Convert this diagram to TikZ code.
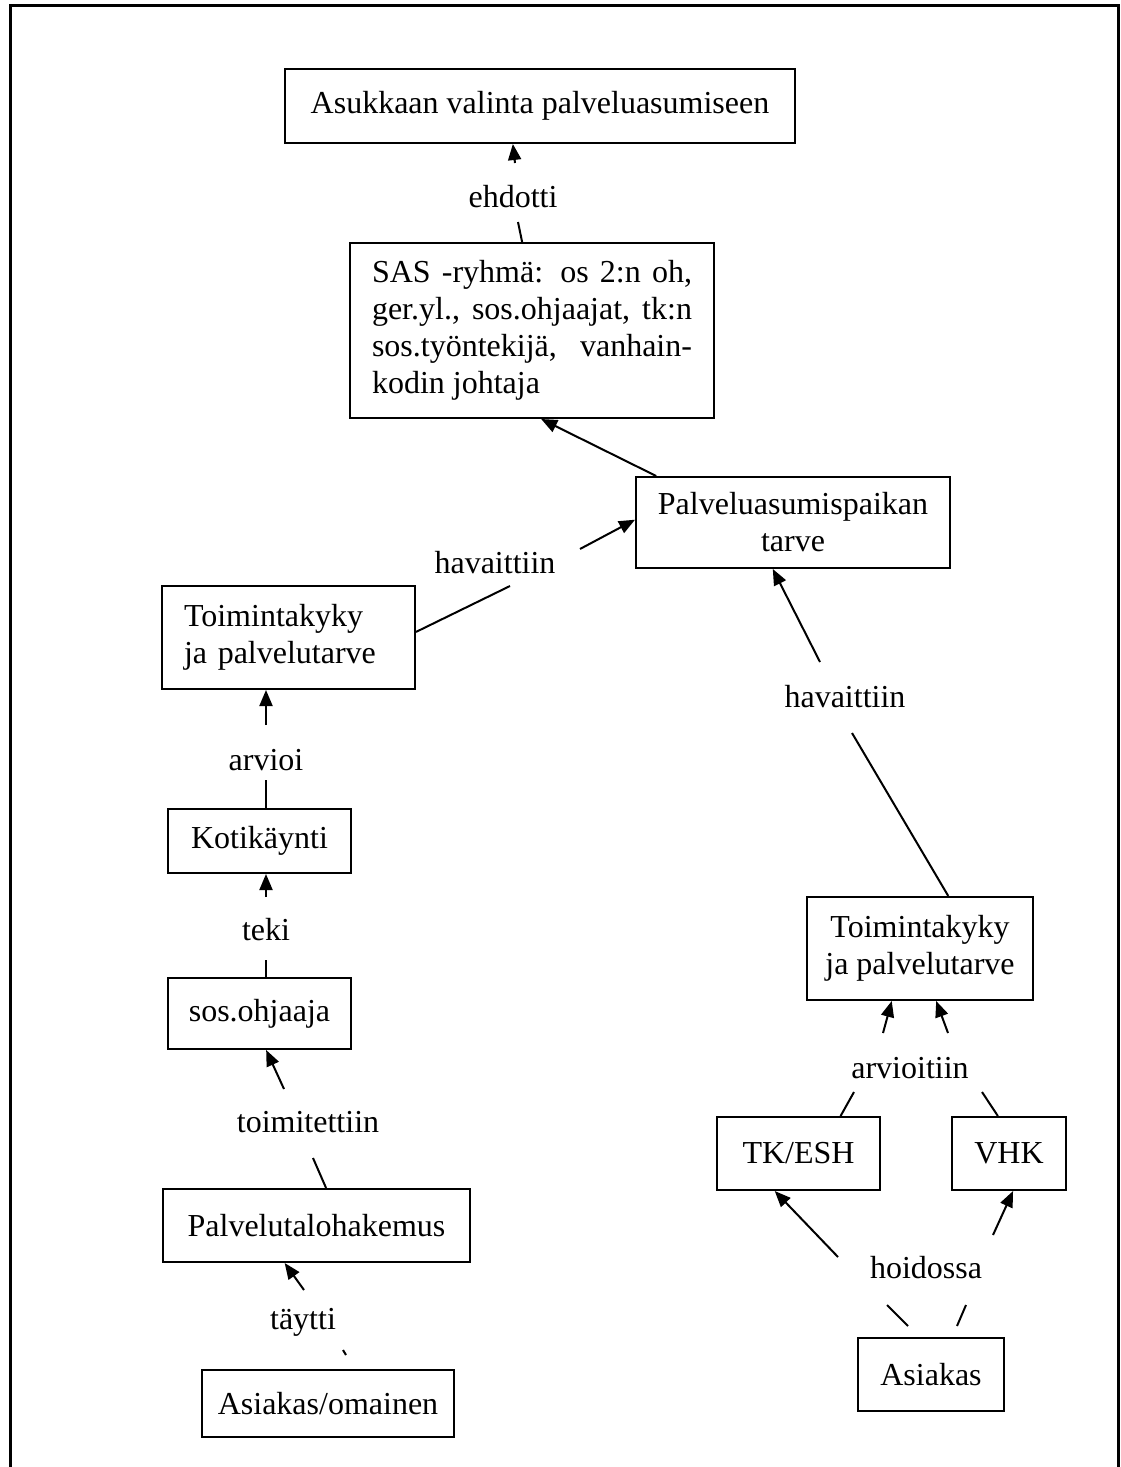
\documentclass[tikz,border=0pt]{standalone}
\usepackage{fontspec}
\setmainfont{Liberation Serif}
\usetikzlibrary{arrows.meta,calc}
\begin{document}
\begin{tikzpicture}[x=0.5pt,y=-0.5pt,
  every node/.style={font=\fontsize{16pt}{18.5pt}\selectfont},
  box/.style 2 args={draw, line width=1pt, inner sep=0pt,
    minimum width=#1*0.5pt, minimum height=#2*0.5pt, align=center},
  lbl/.style={inner sep=0pt},
  link/.style={line width=1pt},
  arr/.style={line width=1pt, -{Triangle[length=8pt,width=6.5pt]}},
]
\useasboundingbox (0,0) rectangle (1120,1467);

% page frame, open at the bottom
\draw[line width=1.5pt] (10,1480) -- (10,5) -- (1118,5) -- (1118,1480);

% boxes
\node[box={510}{74}] (valinta) at (540,106) {Asukkaan valinta palveluasumiseen};
\node[box={364}{175}, text width=160pt, align=justify] (sas) at (532,330.5)
  {SAS -ryhmä: os 2:n oh,\linebreak ger.yl., sos.ohjaajat, tk:n\linebreak
   sos.työntekijä, vanhain-\linebreak kodin johtaja};
\node[box={314}{91}] (tarve) at (793,522.5) {Palveluasumispaikan\\tarve};
\node[box={253}{103}, text width=104.5pt, align=left] (toimL) at (288.5,637.5)
  {Toimintakyky\\ja palvelutarve};
\node[box={183}{64}] (koti) at (259.5,841) {Kotikäynti};
\node[box={183}{71}] (sos) at (259.5,1013.5) {sos.ohjaaja};
\node[box={307}{73}] (hakemus) at (316.5,1225.5) {Palvelutalohakemus};
\node[box={252}{67}] (omainen) at (328,1403.5) {Asiakas/omainen};
\node[box={226}{103}] (toimR) at (920,948.5) {Toimintakyky\\ja palvelutarve};
\node[box={163}{73}] (tkesh) at (798.5,1153.5) {TK/ESH};
\node[box={114}{73}] (vhk) at (1009,1153.5) {VHK};
\node[box={146}{73}] (asiakas) at (931,1374.5) {Asiakas};

% connector labels
\node[lbl] (ehdotti) at (513,197) {ehdotti};
\node[lbl] (havL) at (495,563) {havaittiin};
\node[lbl] (arvioi) at (266,760) {arvioi};
\node[lbl] (teki) at (266,930) {teki};
\node[lbl] (toimitettiin) at (308,1122) {toimitettiin};
\node[lbl] (taytti) at (303,1322) {täytti};
\node[lbl] (havR) at (845,697) {havaittiin};
\node[lbl] (arvioitiin) at (910,1068) {arvioitiin};
\node[lbl] (hoidossa) at (926,1268) {hoidossa};

% free ends of the connectors
\coordinate (e1) at (515,163);
\coordinate (e2) at (518,222);
\coordinate (h1) at (580,549);
\coordinate (h2) at (510,586);
\coordinate (a1) at (266,725);
\coordinate (a2) at (266,780);
\coordinate (k1) at (266,897);
\coordinate (k2) at (266,960);
\coordinate (t1) at (284,1089);
\coordinate (t2) at (313,1158);
\coordinate (y1) at (304,1290);
\coordinate (y2) at (343,1350);
\coordinate (y3) at (346,1355);
\coordinate (r1) at (820,662);
\coordinate (r2) at (852,733);
\coordinate (v1) at (883,1033);
\coordinate (v2) at (948,1033);
\coordinate (v3) at (854,1092);
\coordinate (v4) at (982,1092);
\coordinate (o1) at (838,1257);
\coordinate (o2) at (993,1235);
\coordinate (o3) at (887,1305);
\coordinate (o4) at (908,1326);
\coordinate (o5) at (966,1305);
\coordinate (o6) at (957,1326);

% connectors
\draw[arr] (e1) -- ($(valinta.south west)!0.447!(valinta.south east)$);
\draw[link] (e2) -- ($(sas.north west)!0.473!(sas.north east)$);
\draw[arr] ($(tarve.north west)!0.067!(tarve.north east)$) -- ($(sas.south west)!0.525!(sas.south east)$);
\draw[arr] (h1) -- ($(tarve.north west)!0.47!(tarve.south west)$);
\draw[link] ($(toimL.north east)!0.447!(toimL.south east)$) -- (h2);
\draw[arr] (a1) -- (a1 |- toimL.south);
\draw[link] (a2) -- (a2 |- koti.north);
\draw[arr] (k1) -- (k1 |- koti.south);
\draw[link] (k2) -- (k2 |- sos.north);
\draw[arr] (t1) -- ($(sos.south west)!0.536!(sos.south east)$);
\draw[link] (t2) -- ($(hakemus.north west)!0.531!(hakemus.north east)$);
\draw[arr] (y1) -- ($(hakemus.south west)!0.397!(hakemus.south east)$);
\draw[link] (y2) -- (y3);
\draw[arr] (r1) -- ($(tarve.south west)!0.436!(tarve.south east)$);
\draw[link] (r2) -- ($(toimR.north west)!0.624!(toimR.north east)$);
\draw[arr] (v1) -- ($(toimR.south west)!0.376!(toimR.south east)$);
\draw[arr] (v2) -- ($(toimR.south west)!0.571!(toimR.south east)$);
\draw[link] (v3) -- ($(tkesh.north west)!0.755!(tkesh.north east)$);
\draw[link] (v4) -- ($(vhk.north west)!0.404!(vhk.north east)$);
\draw[arr] (o1) -- ($(tkesh.south west)!0.356!(tkesh.south east)$);
\draw[arr] (o2) -- ($(vhk.south west)!0.535!(vhk.south east)$);
\draw[link] (o3) -- (o4);
\draw[link] (o5) -- (o6);
\end{tikzpicture}
\end{document}
